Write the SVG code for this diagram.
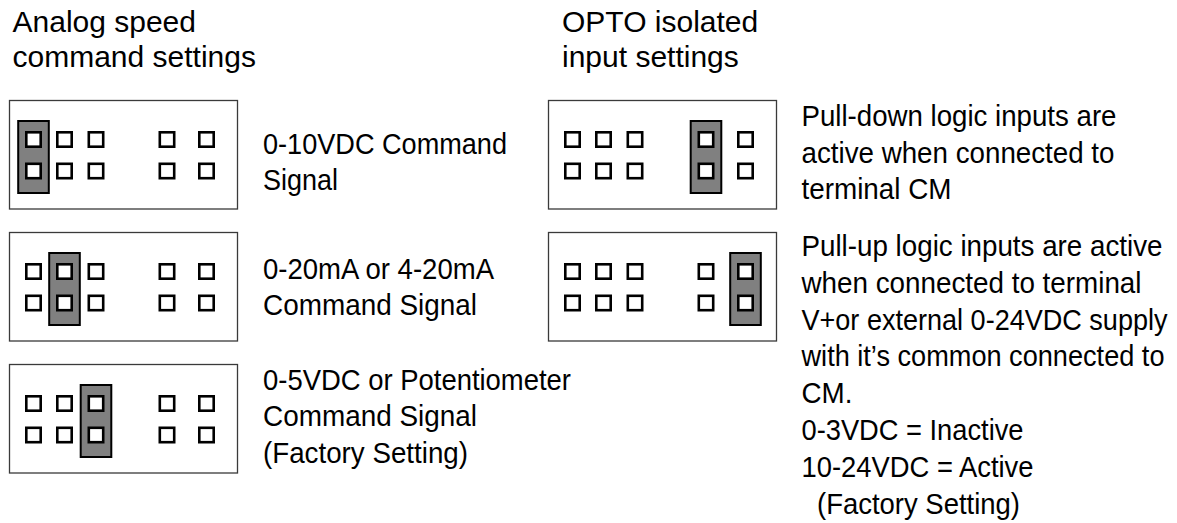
<svg xmlns="http://www.w3.org/2000/svg" xmlns:xlink="http://www.w3.org/1999/xlink" width="1177" height="523" viewBox="0 0 1177 523">
<style>
.box{fill:#fff;stroke:#3a3a3a;stroke-width:1.3}
.pin{fill:#fff;stroke:#000;stroke-width:2.6}
.jmp{fill:#808080;stroke:#000;stroke-width:2}
.hdr{font-family:"Liberation Sans",Arial,sans-serif;font-size:30px;fill:#000}
.lbl{font-family:"Liberation Sans",Arial,sans-serif;font-size:29px;fill:#000}
</style>
<defs>
<g id="pins">
<rect class="pin" x="16.8" y="31.8" width="14.4" height="14.4"/>
<rect class="pin" x="47.8" y="31.8" width="14.4" height="14.4"/>
<rect class="pin" x="79.3" y="31.8" width="14.4" height="14.4"/>
<rect class="pin" x="150.3" y="31.8" width="14.4" height="14.4"/>
<rect class="pin" x="189.8" y="31.8" width="14.4" height="14.4"/>
<rect class="pin" x="16.8" y="63.3" width="14.4" height="14.4"/>
<rect class="pin" x="47.8" y="63.3" width="14.4" height="14.4"/>
<rect class="pin" x="79.3" y="63.3" width="14.4" height="14.4"/>
<rect class="pin" x="150.3" y="63.3" width="14.4" height="14.4"/>
<rect class="pin" x="189.8" y="63.3" width="14.4" height="14.4"/>
</g>
</defs>
<rect width="1177" height="523" fill="#fff"/>
<g id="headers">
<text class="hdr" x="12.5" y="32">Analog speed</text>
<text class="hdr" x="12.5" y="67">command settings</text>
<text class="hdr" x="562" y="32">OPTO isolated</text>
<text class="hdr" x="562" y="67">input settings</text>
</g>
<g id="connectors"/>
<g id="analog-0-10v">
<g transform="translate(9.5,100.5)">
<rect class="box" x="0" y="0" width="228" height="108.5"/>
<rect class="jmp" x="8.7" y="20.5" width="30.6" height="72"/>
<use xlink:href="#pins" href="#pins"/>
</g>
<text class="lbl" x="263" y="153.5" textLength="244" lengthAdjust="spacingAndGlyphs">0-10VDC Command</text>
<text class="lbl" x="263" y="190" textLength="75" lengthAdjust="spacingAndGlyphs">Signal</text>
</g>
<g id="analog-0-20ma">
<g transform="translate(9.5,232.5)">
<rect class="box" x="0" y="0" width="228" height="108.5"/>
<rect class="jmp" x="39.7" y="20.5" width="30.6" height="72"/>
<use xlink:href="#pins" href="#pins"/>
</g>
<text class="lbl" x="263" y="278.5" textLength="231" lengthAdjust="spacingAndGlyphs">0-20mA or 4-20mA</text>
<text class="lbl" x="263" y="315" textLength="214" lengthAdjust="spacingAndGlyphs">Command Signal</text>
</g>
<g id="analog-0-5v">
<g transform="translate(9.5,364.5)">
<rect class="box" x="0" y="0" width="228" height="108.5"/>
<rect class="jmp" x="71.2" y="20.5" width="30.6" height="72"/>
<use xlink:href="#pins" href="#pins"/>
</g>
<text class="lbl" x="263" y="389.5" textLength="308" lengthAdjust="spacingAndGlyphs">0-5VDC or Potentiometer</text>
<text class="lbl" x="263" y="426" textLength="214" lengthAdjust="spacingAndGlyphs">Command Signal</text>
<text class="lbl" x="263" y="462.5" textLength="205" lengthAdjust="spacingAndGlyphs">(Factory Setting)</text>
</g>
<g id="opto-pull-down">
<g transform="translate(548.5,100.5)">
<rect class="box" x="0" y="0" width="228" height="108.5"/>
<rect class="jmp" x="142.2" y="20.5" width="30.6" height="72"/>
<use xlink:href="#pins" href="#pins"/>
</g>
<text class="lbl" x="801.5" y="126" textLength="315" lengthAdjust="spacingAndGlyphs">Pull-down logic inputs are</text>
<text class="lbl" x="801.5" y="162.5" textLength="313" lengthAdjust="spacingAndGlyphs">active when connected to</text>
<text class="lbl" x="801.5" y="199" textLength="150" lengthAdjust="spacingAndGlyphs">terminal CM</text>
</g>
<g id="opto-pull-up">
<g transform="translate(548.5,232.5)">
<rect class="box" x="0" y="0" width="228" height="108.5"/>
<rect class="jmp" x="181.7" y="20.5" width="30.6" height="72"/>
<use xlink:href="#pins" href="#pins"/>
</g>
<text class="lbl" x="801.5" y="256" textLength="361" lengthAdjust="spacingAndGlyphs">Pull-up logic inputs are active</text>
<text class="lbl" x="801.5" y="292.8" textLength="340" lengthAdjust="spacingAndGlyphs">when connected to terminal</text>
<text class="lbl" x="801.5" y="329.6" textLength="366" lengthAdjust="spacingAndGlyphs">V+or external 0-24VDC supply</text>
<text class="lbl" x="801.5" y="366.4" textLength="363" lengthAdjust="spacingAndGlyphs">with it’s common connected to</text>
<text class="lbl" x="801.5" y="403.2" textLength="51" lengthAdjust="spacingAndGlyphs">CM.</text>
<text class="lbl" x="801.5" y="440" textLength="222" lengthAdjust="spacingAndGlyphs">0-3VDC = Inactive</text>
<text class="lbl" x="801.5" y="476.8" textLength="232" lengthAdjust="spacingAndGlyphs">10-24VDC = Active</text>
<text class="lbl" x="817" y="513.6" textLength="203" lengthAdjust="spacingAndGlyphs">(Factory Setting)</text>
</g>
</svg>
